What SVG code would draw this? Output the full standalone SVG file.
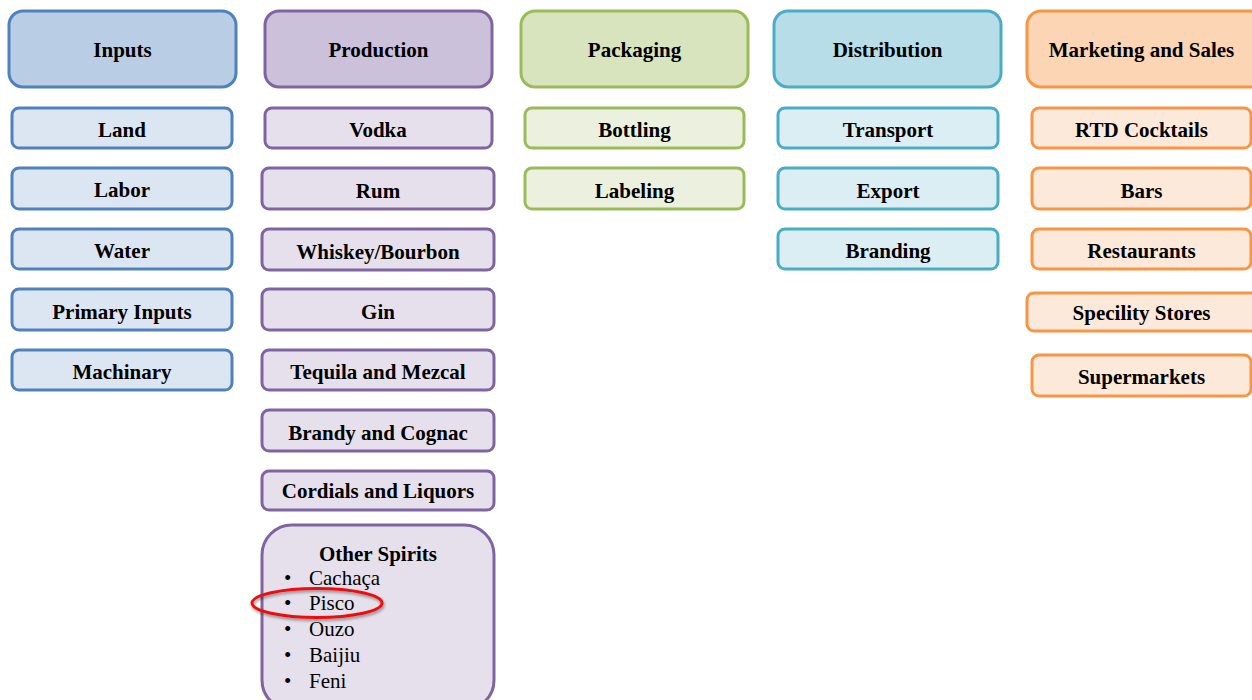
<svg xmlns="http://www.w3.org/2000/svg" width="1252" height="700" viewBox="0 0 1252 700">
<defs>
<style>
text{font-family:"Liberation Serif","Times New Roman",serif;font-size:21px;fill:#000}
.b{font-weight:bold;text-anchor:middle}
rect{stroke-width:3}
.h{rx:14}
.i{rx:7}
.in rect.h{fill:#b9cde5;stroke:#4f81bd}.in rect.i{fill:#dce6f2;stroke:#4f81bd}
.pr rect.h{fill:#ccc1da;stroke:#8064a2}.pr rect.i{fill:#e6e0ec;stroke:#8064a2}
.pk rect.h{fill:#d7e4bd;stroke:#9bbb59}.pk rect.i{fill:#ebf1de;stroke:#9bbb59}
.di rect.h{fill:#b7dde8;stroke:#4bacc6}.di rect.i{fill:#dbeef4;stroke:#4bacc6}
.mk rect.h{fill:#fcd5b5;stroke:#f79646}.mk rect.i{fill:#fde9d9;stroke:#f79646}
</style>
<filter id="sh" x="-20%" y="-50%" width="140%" height="200%"><feGaussianBlur in="SourceAlpha" stdDeviation="1.5"/><feOffset dx="1" dy="2"/><feComponentTransfer><feFuncA type="linear" slope="0.4"/></feComponentTransfer><feMerge><feMergeNode/><feMergeNode in="SourceGraphic"/></feMerge></filter>
</defs>
<g class="in">
<g id="inputs"><rect class="h" x="9" y="11" width="227" height="76"/><text class="b" x="122.5" y="57">Inputs</text></g>
<g id="land"><rect class="i" x="12" y="108" width="220" height="40"/><text class="b" x="122" y="137">Land</text></g>
<g id="labor"><rect class="i" x="12" y="168" width="220" height="41"/><text class="b" x="122" y="197">Labor</text></g>
<g id="water"><rect class="i" x="12" y="229" width="220" height="40"/><text class="b" x="122" y="258">Water</text></g>
<g id="primary"><rect class="i" x="12" y="289" width="220" height="41"/><text class="b" x="122" y="319">Primary Inputs</text></g>
<g id="machinary"><rect class="i" x="12" y="350" width="220" height="40"/><text class="b" x="122" y="379">Machinary</text></g>
</g>
<g class="pr">
<g id="production"><rect class="h" x="265" y="11" width="227" height="76"/><text class="b" x="378.5" y="57">Production</text></g>
<g id="vodka"><rect class="i" x="265" y="108" width="227" height="40"/><text class="b" x="378" y="137">Vodka</text></g>
<g id="rum"><rect class="i" x="262" y="168" width="232" height="41"/><text class="b" x="378" y="198">Rum</text></g>
<g id="whiskey"><rect class="i" x="262" y="229" width="232" height="41"/><text class="b" x="378" y="259">Whiskey/Bourbon</text></g>
<g id="gin"><rect class="i" x="262" y="289" width="232" height="41"/><text class="b" x="378" y="319">Gin</text></g>
<g id="tequila"><rect class="i" x="262" y="350" width="232" height="40"/><text class="b" x="378" y="379">Tequila and Mezcal</text></g>
<g id="brandy"><rect class="i" x="262" y="410" width="232" height="41"/><text class="b" x="378" y="440">Brandy and Cognac</text></g>
<g id="cordials"><rect class="i" x="262" y="471" width="232" height="39"/><text class="b" x="378" y="498">Cordials and Liquors</text></g>
<g id="other"><rect class="i" x="262" y="525" width="232" height="185" rx="30" style="rx:30px"/><text class="b" x="378" y="561">Other Spirits</text>
<text x="284" y="585">•</text><text x="309" y="585">Cachaça</text>
<text x="284" y="610">•</text><text x="309" y="610">Pisco</text>
<text x="284" y="636">•</text><text x="309" y="636">Ouzo</text>
<text x="284" y="662">•</text><text x="309" y="662">Baijiu</text>
<text x="284" y="688">•</text><text x="309" y="688">Feni</text>
</g>
</g>
<g class="pk">
<g id="packaging"><rect class="h" x="521" y="11" width="227" height="76"/><text class="b" x="634.5" y="57">Packaging</text></g>
<g id="bottling"><rect class="i" x="525" y="108" width="219" height="40"/><text class="b" x="634.5" y="137">Bottling</text></g>
<g id="labeling"><rect class="i" x="525" y="168" width="219" height="41"/><text class="b" x="634.5" y="198">Labeling</text></g>
</g>
<g class="di">
<g id="distribution"><rect class="h" x="774" y="11" width="227" height="76"/><text class="b" x="887.5" y="57">Distribution</text></g>
<g id="transport"><rect class="i" x="778" y="108" width="220" height="40"/><text class="b" x="888" y="137">Transport</text></g>
<g id="export"><rect class="i" x="778" y="168" width="220" height="41"/><text class="b" x="888" y="198">Export</text></g>
<g id="branding"><rect class="i" x="778" y="229" width="220" height="40"/><text class="b" x="888" y="258">Branding</text></g>
</g>
<g class="mk">
<g id="marketing"><rect class="h" x="1027" y="11" width="238" height="76"/><text class="b" x="1141.5" y="57">Marketing and Sales</text></g>
<g id="rtd"><rect class="i" x="1032" y="108" width="219" height="40"/><text class="b" x="1141.5" y="137">RTD Cocktails</text></g>
<g id="bars"><rect class="i" x="1032" y="168" width="219" height="41"/><text class="b" x="1141.5" y="198">Bars</text></g>
<g id="restaurants"><rect class="i" x="1032" y="229" width="219" height="40"/><text class="b" x="1141.5" y="258">Restaurants</text></g>
<g id="specility"><rect class="i" x="1027" y="293" width="235" height="38"/><text class="b" x="1141.5" y="320">Specility Stores</text></g>
<g id="supermarkets"><rect class="i" x="1032" y="355" width="219" height="41"/><text class="b" x="1141.5" y="384">Supermarkets</text></g>
</g>
<g id="connectors"></g>
<g id="highlight"><ellipse cx="317" cy="603" rx="65" ry="14.5" fill="none" stroke="#ee1111" stroke-width="3" filter="url(#sh)"/></g>
</svg>
